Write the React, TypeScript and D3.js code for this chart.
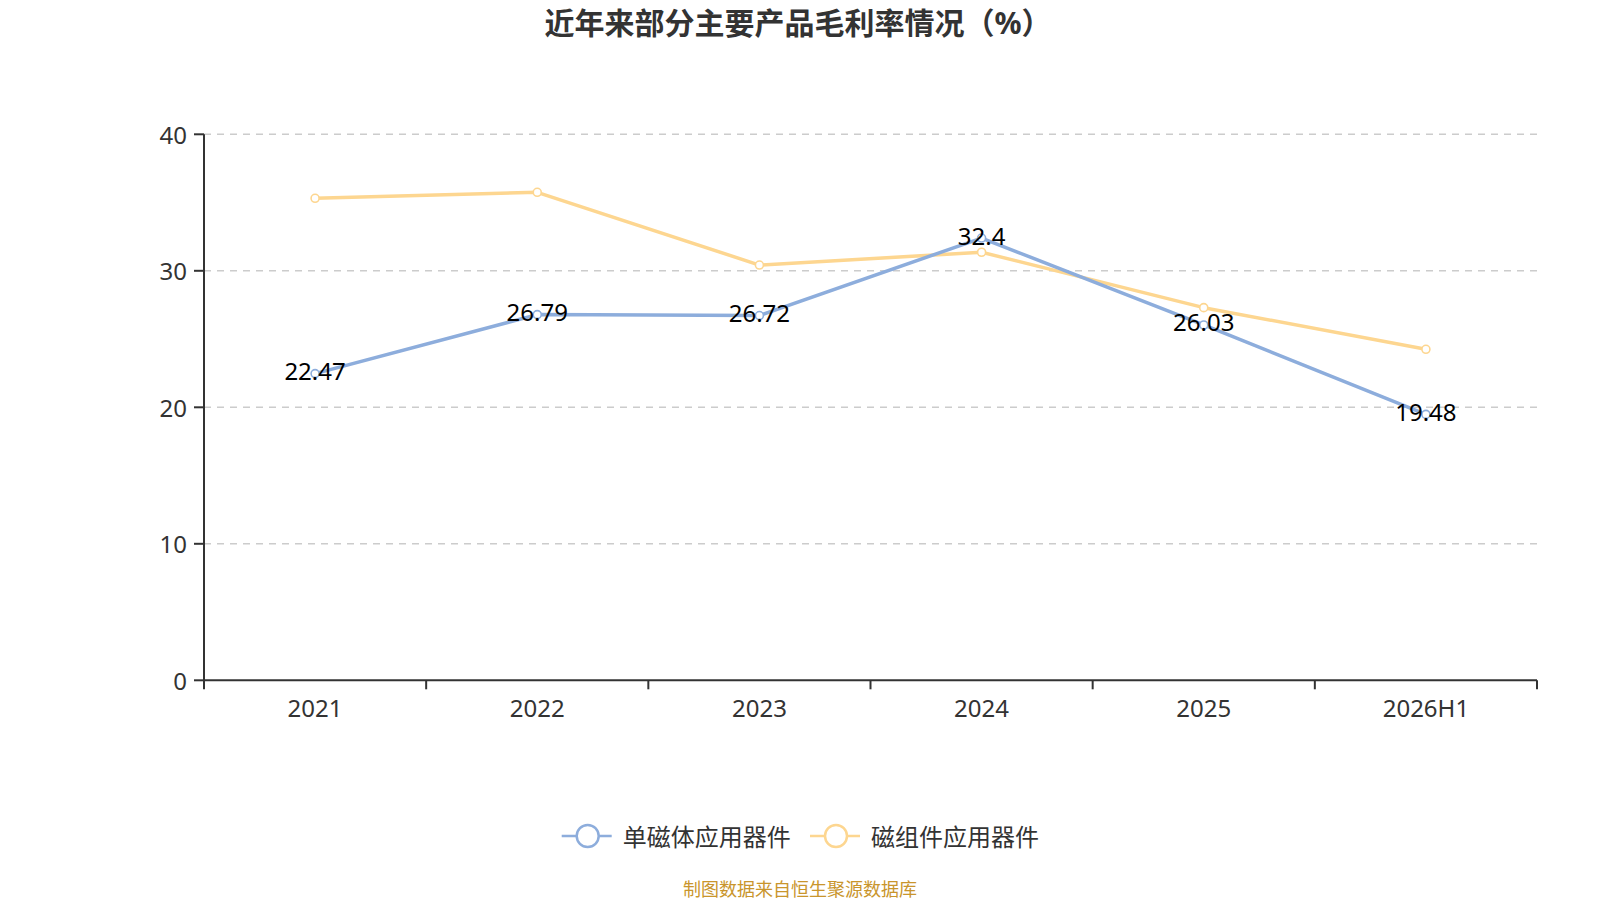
import React from "react";
import * as d3 from "d3";

const categories = ["2021", "2022", "2023", "2024", "2025", "2026H1"];
const seriesNames = ["单磁体应用器件", "磁组件应用器件"];
const singleMagnet = [22.47, 26.79, 26.72, 32.4, 26.03, 19.48];
const magneticComponent = [35.31, 35.75, 30.42, 31.36, 27.3, 24.25];
const yTicks = [0, 10, 20, 30, 40];
const colors = ["#8DADDC", "#FDD690"];
const title = "近年来部分主要产品毛利率情况（%）";
const source = "制图数据来自恒生聚源数据库";

const W = 1600;
const H = 900;
const left = 204;
const right = 1537;
const top = 134.3;
const bottom = 680.3;
const font = "'Noto Sans', 'Noto Sans CJK SC', sans-serif";

export default function App() {
  const x = d3.scaleBand<string>().domain(categories).range([left, right]);
  const y = d3.scaleLinear().domain([0, 40]).range([bottom, top]);
  const cx = (c: string) => (x(c) as number) + x.bandwidth() / 2;
  const line = d3
    .line<number>()
    .x((_, i) => cx(categories[i]))
    .y((d) => y(d));
  const series = [singleMagnet, magneticComponent];
  const legendX = [587.7, 836];
  const legendY = 836;

  return (
    <div style={{ position: "fixed", left: 0, top: 0, width: W, height: H, background: "#fff" }}>
      <svg width={W} height={H} style={{ display: "block", fontFamily: font }}>
        <rect width={W} height={H} fill="#fff" />
        <text x={798} y={22} textAnchor="middle" dominantBaseline="central" fontSize={30} fontWeight="bold" fill="#333">
          {title}
        </text>
        {yTicks.map((t) => (
          <g key={t}>
            {t > 0 && (
              <line x1={left} x2={right} y1={y(t)} y2={y(t)} stroke="#ccc" strokeWidth={1.5} strokeDasharray="7,6" />
            )}
            <line x1={left - 10} x2={left} y1={y(t)} y2={y(t)} stroke="#333" strokeWidth={2} />
            <text x={187} y={y(t)} textAnchor="end" dominantBaseline="central" fontSize={24} fill="#333">
              {t}
            </text>
          </g>
        ))}
        <line x1={left} x2={left} y1={top} y2={bottom} stroke="#333" strokeWidth={2} />
        <line x1={left} x2={right} y1={bottom} y2={bottom} stroke="#333" strokeWidth={2} />
        {categories.map((c, i) => (
          <line key={"t" + i} x1={x(c) as number} x2={x(c) as number} y1={bottom} y2={bottom + 9} stroke="#333" strokeWidth={2} />
        ))}
        <line x1={right} x2={right} y1={bottom} y2={bottom + 9} stroke="#333" strokeWidth={2} />
        {categories.map((c) => (
          <text key={c} x={cx(c)} y={707} textAnchor="middle" dominantBaseline="central" fontSize={24} fill="#333">
            {c}
          </text>
        ))}
        {[1, 0].map((si) => (
          <g key={"s" + si}>
            <path d={line(series[si]) as string} fill="none" stroke={colors[si]} strokeWidth={3.5} strokeLinejoin="round" />
            {series[si].map((v, i) => (
              <circle key={i} cx={cx(categories[i])} cy={y(v)} r={4} fill="#fff" stroke={colors[si]} strokeWidth={1.6} />
            ))}
          </g>
        ))}
        {singleMagnet.map((v, i) => (
          <text key={"l" + i} x={cx(categories[i])} y={y(v) - 3} textAnchor="middle" dominantBaseline="central" fontSize={24} fill="#000">
            {v}
          </text>
        ))}
        {seriesNames.map((n, i) => (
          <g key={n}>
            <line x1={legendX[i] - 26} x2={legendX[i] + 24} y1={legendY} y2={legendY} stroke={colors[i]} strokeWidth={2.5} />
            <circle cx={legendX[i]} cy={legendY} r={11} fill="#fff" stroke={colors[i]} strokeWidth={2.5} />
            <text x={legendX[i] + 35} y={legendY} dominantBaseline="central" fontSize={24} fill="#333">
              {n}
            </text>
          </g>
        ))}
        <text x={800} y={889} textAnchor="middle" dominantBaseline="central" fontSize={18} fill="#C9952C">
          {source}
        </text>
      </svg>
    </div>
  );
}
